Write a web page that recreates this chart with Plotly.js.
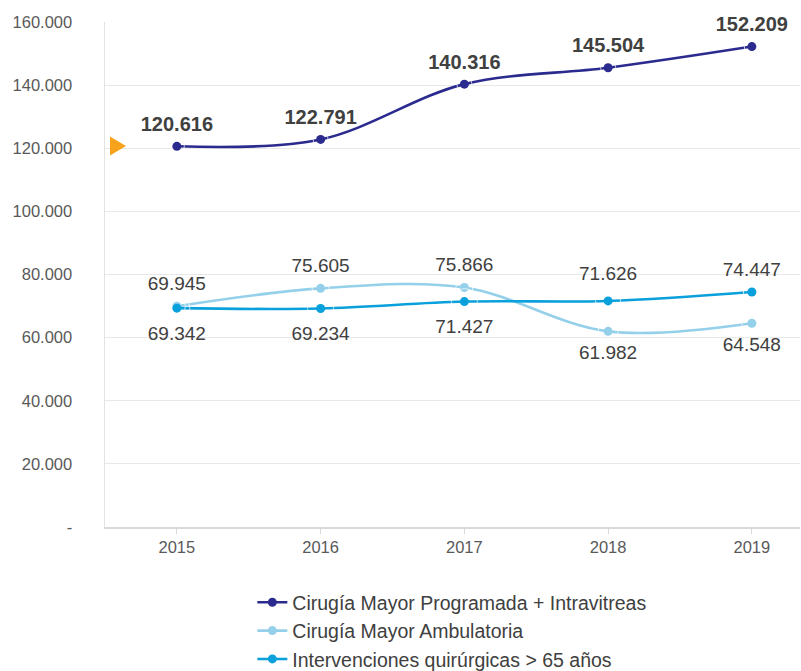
<!DOCTYPE html>
<html>
<head>
<meta charset="utf-8">
<script src="https://cdn.plot.ly/plotly-3.0.1.min.js"></script>
<style>html,body{margin:0;padding:0;background:#fff;}#chart{width:801px;height:671px;}</style>
</head>
<body>
<div id="chart"></div>
<script>
const years = ['2015', '2016', '2017', '2018', '2019'];
const cirugiaProgramada = [120616, 122791, 140316, 145504, 152209];
const cirugiaAmbulatoria = [69945, 75605, 75866, 61982, 64548];
const intervenciones65 = [69342, 69234, 71427, 71626, 74447];
const seriesNames = [
  'Cirugía Mayor Programada + Intravitreas',
  'Cirugía Mayor Ambulatoria',
  'Intervenciones quirúrgicas > 65 años'
];
const yTickVals = [0, 20000, 40000, 60000, 80000, 100000, 120000, 140000, 160000];
const yTickText = ['-', '20.000', '40.000', '60.000', '80.000', '100.000', '120.000', '140.000', '160.000'];
// label side per point: 'above', 'below', 'near' (below, closer) or 'leader' (above, further up)
const programadaLabelSide = ['above', 'above', 'above', 'above', 'above'];
const ambulatoriaLabelSide = ['above', 'above', 'above', 'near', 'near'];
const intervencionesLabelSide = ['below', 'below', 'below', 'leader', 'above'];

function fmt(v) {
  return String(v).replace(/\B(?=(\d{3})+(?!\d))/g, '.');
}

const FONT = 'Liberation Sans, Arial, sans-serif';
const colors = ['#2B2A8E', '#94D0EA', '#0AA0DB'];

function mkTrace(y, name, color) {
  return {
    x: years, y: y, name: name,
    type: 'scatter', mode: 'lines+markers',
    line: {color: color, width: 2.6, shape: 'spline', smoothing: 1},
    marker: {color: color, size: 9},
    cliponaxis: false, hoverinfo: 'skip'
  };
}

// text-only helper traces: an invisible marker sets the gap between point and label
function mkLabelTrace(y, sides, bold) {
  const gap = {above: bold ? 15 : 17, below: 26, near: 20, leader: 25};
  return {
    x: years, y: y, type: 'scatter', mode: 'markers+text',
    showlegend: false, hoverinfo: 'skip', cliponaxis: false,
    marker: {color: 'rgba(0,0,0,0)', size: sides.map(function (s) { return gap[s]; })},
    text: y.map(function (v) { return bold ? '<b>' + fmt(v) + '</b>' : fmt(v); }),
    textposition: sides.map(function (s) { return (s === 'below' || s === 'near') ? 'bottom center' : 'top center'; }),
    textfont: {family: FONT, size: bold ? 20 : 19, color: '#404040'}
  };
}

const traces = [
  mkTrace(cirugiaProgramada, seriesNames[0], colors[0]),
  mkTrace(cirugiaAmbulatoria, seriesNames[1], colors[1]),
  mkTrace(intervenciones65, seriesNames[2], colors[2]),
  mkLabelTrace(cirugiaProgramada, programadaLabelSide, true),
  mkLabelTrace(cirugiaAmbulatoria, ambulatoriaLabelSide, false),
  mkLabelTrace(intervenciones65, intervencionesLabelSide, false)
];

const layout = {
  width: 801, height: 671,
  margin: {l: 105, r: 1, t: 22, b: 144, pad: 0, autoexpand: false},
  paper_bgcolor: '#fff', plot_bgcolor: '#fff',
  font: {family: FONT, color: '#595959', size: 16},
  showlegend: true,
  legend: {
    orientation: 'v', x: 0.212, xanchor: 'left', y: -0.111, yanchor: 'top',
    font: {family: FONT, size: 19.5, color: '#404040'},
    bgcolor: 'rgba(0,0,0,0)', tracegroupgap: 0
  },
  xaxis: {
    type: 'category', range: [-0.5, 4.335],
    showgrid: false, zeroline: false,
    showline: true, linecolor: '#d9d9d9', linewidth: 1.5,
    ticks: 'outside', ticklen: 5, tickcolor: '#d9d9d9',
    tickfont: {family: FONT, size: 16.5, color: '#595959'}
  },
  yaxis: {
    range: [0, 160000], tickvals: yTickVals, ticktext: yTickText,
    showgrid: true, gridcolor: '#e8e8e8', gridwidth: 1.2,
    zeroline: false, showline: true, linecolor: '#e3e3e3', linewidth: 1.5,
    ticks: '', ticklabelstandoff: 28,
    tickfont: {family: FONT, size: 16.5, color: '#595959'}
  },
  shapes: [{
    type: 'path', xref: 'paper', yref: 'paper',
    path: 'M 0.0072 0.7733 L 0.0302 0.7545 L 0.0072 0.7357 Z',
    fillcolor: '#F7A21B', line: {width: 0}
  }]
};

Plotly.newPlot('chart', traces, layout, {displayModeBar: false, staticPlot: true});
</script>
</body>
</html>
